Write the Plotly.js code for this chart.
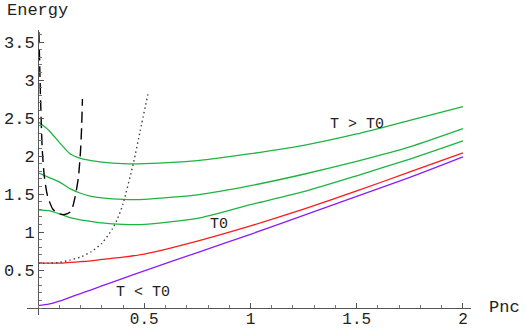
<html>
<head>
    <meta charset="utf-8">
    <title>Energy vs Pnc</title>
    <script src="https://cdn.plot.ly/plotly-3.0.1.min.js"></script>
    <style type="text/css">
        body {margin:0; background:#fff}
        #chart {width:526px; height:332px}
    </style>
</head>
<body>
<div id="chart"></div>
<script>
    // values
    var pnc = [0, 0.05, 0.1, 0.15, 0.2, 0.25, 0.3, 0.4, 0.5, 0.75, 1, 1.25, 1.5, 1.75, 2];
    var greenHigh = [2.45, 2.34, 2.18, 2.03, 1.97, 1.94, 1.92, 1.90, 1.90, 1.94, 2.03, 2.14, 2.29, 2.47, 2.65];
    var greenMid  = [1.78, 1.72, 1.66, 1.57, 1.51, 1.47, 1.45, 1.43, 1.43, 1.49, 1.61, 1.76, 1.93, 2.12, 2.36];
    var greenLow  = [1.29, 1.28, 1.24, 1.19, 1.16, 1.14, 1.12, 1.10, 1.10, 1.18, 1.36, 1.53, 1.74, 1.96, 2.20];
    var redT0     = [0.59, 0.59, 0.59, 0.60, 0.61, 0.62, 0.64, 0.67, 0.71, 0.88, 1.08, 1.30, 1.54, 1.79, 2.04];
    var purpleLow = [0.03, 0.05, 0.09, 0.14, 0.19, 0.24, 0.29, 0.39, 0.49, 0.73, 0.97, 1.22, 1.47, 1.72, 1.99];

    var dashX = [0.004, 0.008, 0.012, 0.02, 0.03, 0.045, 0.07, 0.1, 0.125, 0.155, 0.175, 0.19, 0.2, 0.205, 0.209];
    var dashY = [3.63, 3.17, 2.73, 2.07, 1.72, 1.47, 1.30, 1.24, 1.23, 1.27, 1.47, 1.72, 2.07, 2.37, 2.75];

    var dotX = [0, 0.05, 0.1, 0.15, 0.2, 0.25, 0.3, 0.35, 0.375, 0.4, 0.45, 0.48, 0.517];
    var dotY = [0.59, 0.59, 0.60, 0.63, 0.67, 0.74, 0.85, 1.04, 1.18, 1.37, 1.92, 2.32, 2.81];

    var xTicks = [0.5, 1, 1.5, 2];
    var yTicks = [0.5, 1, 1.5, 2, 2.5, 3, 3.5];

    var FONT = 'Liberation Mono, Courier New, monospace';
    var GREEN = '#1db440';

    function curve(x, y, color, dash, width) {
        return {x: x, y: y, type: 'scatter', mode: 'lines', hoverinfo: 'skip',
                line: {color: color, width: width || 1.3, dash: dash || 'solid', shape: 'spline', smoothing: 0.6}};
    }

    var data = [
        curve(pnc, purpleLow, '#8a1cff'),
        curve(pnc, redT0, '#ff1a1a'),
        curve(pnc, greenLow, GREEN),
        curve(pnc, greenMid, GREEN),
        curve(pnc, greenHigh, GREEN),
        curve(dashX, dashY, '#000', '11px,6px', 1.4),
        curve(dotX, dotY, '#444', '1.5px,3px', 1.4)
    ];

    var axisCommon = {
        showgrid: false, zeroline: false, showline: true, linecolor: '#555', linewidth: 1,
        tickmode: 'array', ticks: 'inside', ticklen: 5, tickcolor: '#555', tickwidth: 1,
        tickfont: {family: FONT, size: 17, color: '#222'},
        minor: {tickmode: 'linear', tick0: 0, dtick: 0.1, ticks: 'inside', ticklen: 3, tickcolor: '#777'},
        anchor: 'free', fixedrange: true
    };

    var layout = {
        width: 526, height: 332,
        margin: {l: 27, r: 55, t: 30, b: 17},
        paper_bgcolor: '#fff', plot_bgcolor: '#fff',
        showlegend: false,
        xaxis: Object.assign({}, axisCommon, {range: [-0.052, 2.038], tickvals: xTicks, position: 0.0245,
                                               tickfont: {family: FONT, size: 16, color: '#222'}, ticklabelstandoff: -4}),
        yaxis: Object.assign({}, axisCommon, {range: [-0.092, 3.658], tickvals: yTicks, position: 0.0249}),
        annotations: [
            {text: 'Energy', x: -0.0495, y: 1.07, xref: 'paper', yref: 'paper', xanchor: 'left', yanchor: 'middle', showarrow: false, font: {family: FONT, size: 17, color: '#222'}},
            {text: 'Pnc', x: 1.036, y: 0.0246, xref: 'paper', yref: 'paper', xanchor: 'left', yanchor: 'middle', showarrow: false, font: {family: FONT, size: 17, color: '#222'}},
            {text: 'T > T0', x: 1.5, y: 2.41, xref: 'x', yref: 'y', showarrow: false, font: {family: FONT, size: 15, color: '#222'}},
            {text: 'T0', x: 0.852, y: 1.105, xref: 'x', yref: 'y', showarrow: false, font: {family: FONT, size: 15, color: '#222'}},
            {text: 'T < T0', x: 0.494, y: 0.2, xref: 'x', yref: 'y', showarrow: false, font: {family: FONT, size: 15, color: '#222'}}
        ]
    };

    Plotly.newPlot('chart', data, layout, {displayModeBar: false, staticPlot: true});
</script>
</body>
</html>
